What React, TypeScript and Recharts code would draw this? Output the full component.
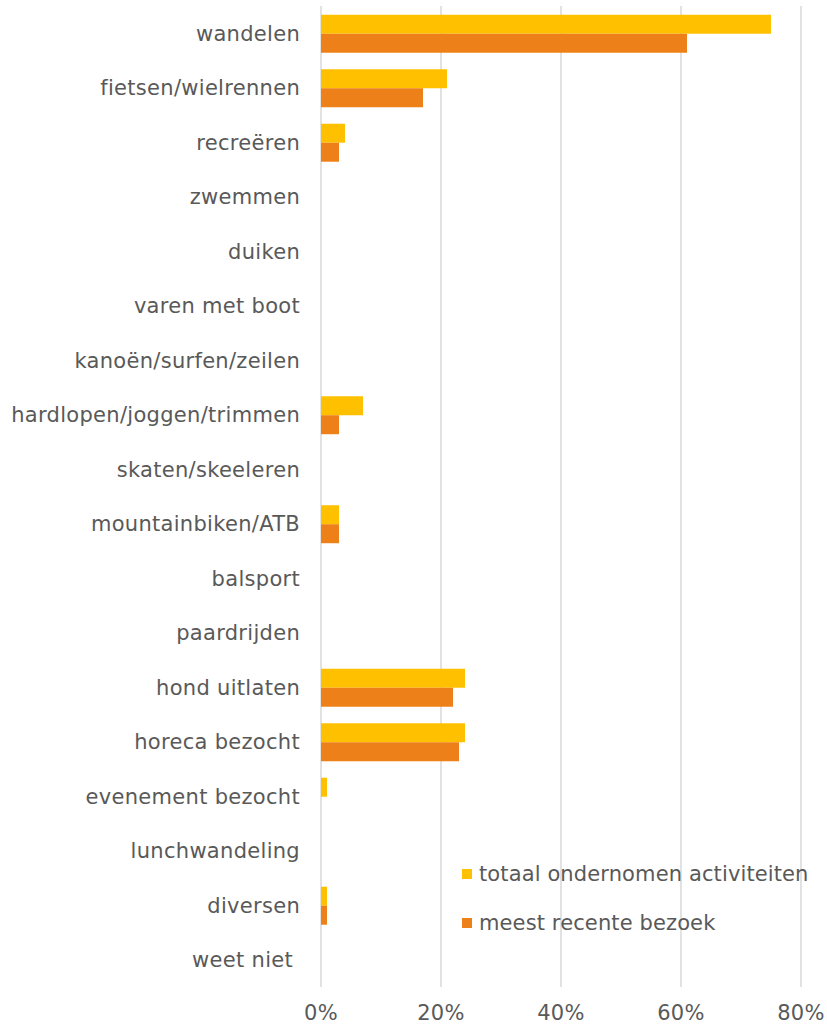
import React from 'react';
import { BarChart, Bar, XAxis, YAxis, CartesianGrid } from 'recharts';

const categories = [
  'wandelen',
  'fietsen/wielrennen',
  'recreëren',
  'zwemmen',
  'duiken',
  'varen met boot',
  'kanoën/surfen/zeilen',
  'hardlopen/joggen/trimmen',
  'skaten/skeeleren',
  'mountainbiken/ATB',
  'balsport',
  'paardrijden',
  'hond uitlaten',
  'horeca bezocht',
  'evenement bezocht',
  'lunchwandeling',
  'diversen',
  'weet niet\u00a0',
];

const totaalValues = [75, 21, 4, 0, 0, 0, 0, 7, 0, 3, 0, 0, 24, 24, 1, 0, 1, 0];
const recentValues = [61, 17, 3, 0, 0, 0, 0, 3, 0, 3, 0, 0, 22, 23, 0, 0, 1, 0];

const xTicks = [0, 20, 40, 60, 80];

const seriesNames = ['totaal ondernomen activiteiten', 'meest recente bezoek'];
const colors = ['#FFC000', '#EE8019'];

const data = categories.map((name, i) => ({
  name,
  totaal: totaalValues[i],
  recent: recentValues[i],
}));

const FONT = '"DejaVu Sans", Verdana, sans-serif';
const TEXT = '#595959';
const tickStyle = { fill: TEXT, fontSize: 21, fontFamily: FONT, letterSpacing: 0.3 };

const LegendBox = () => (
  <div
    style={{
      position: 'absolute',
      left: 462,
      top: 849,
      fontFamily: FONT,
      fontSize: 21,
      letterSpacing: 0.12,
      color: TEXT,
      whiteSpace: 'nowrap',
    }}
  >
    {seriesNames.map((n, i) => (
      <div key={n} style={{ display: 'flex', alignItems: 'center', height: 49 }}>
        <span style={{ display: 'inline-block', width: 10, height: 10, background: colors[i], marginRight: 7 }} />
        <span>{n}</span>
      </div>
    ))}
  </div>
);

export default function App() {
  return (
    <div style={{ position: 'absolute', left: 0, top: 0, width: 827, height: 1031, background: '#fff' }}>
      <BarChart
        width={827}
        height={1031}
        data={data}
        layout="vertical"
        margin={{ top: 6, right: 26, bottom: 0, left: 0 }}
        barCategoryGap="16%"
        barGap={0}
      >
        <CartesianGrid horizontal={false} vertical={true} stroke="#D9D9D9" strokeWidth={1.5} />
        <XAxis
          type="number"
          domain={[0, 80]}
          ticks={xTicks}
          tickFormatter={(v) => `${v}%`}
          axisLine={false}
          tickLine={false}
          height={44}
          tickSize={0}
          tickMargin={18}
          interval={0}
          tick={tickStyle}
        />
        <YAxis
          type="category"
          dataKey="name"
          width={321}
          axisLine={false}
          tickLine={false}
          tickSize={0}
          tickMargin={21}
          interval={0}
          tick={tickStyle}
        />
        <Bar dataKey="totaal" name={seriesNames[0]} fill={colors[0]} isAnimationActive={false} />
        <Bar dataKey="recent" name={seriesNames[1]} fill={colors[1]} isAnimationActive={false} />
      </BarChart>
      <LegendBox />
    </div>
  );
}
